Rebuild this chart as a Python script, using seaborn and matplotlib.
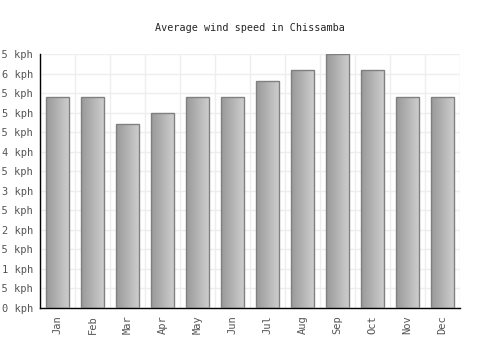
import matplotlib
matplotlib.use("Agg")
import matplotlib.pyplot as plt
import seaborn as sns
import numpy as np
import pandas as pd

months = ["Jan", "Feb", "Mar", "Apr", "May", "Jun", "Jul", "Aug", "Sep", "Oct", "Nov", "Dec"]
speed = [5.4, 5.4, 4.7, 5.0, 5.4, 5.4, 5.8, 6.1, 6.5, 6.1, 5.4, 5.4]
yticks = np.arange(0, 7.0, 0.5)

df = pd.DataFrame({"month": months, "speed": speed})

sns.set_style("white")
plt.rcParams['font.family'] = ['DejaVu Sans Mono']

fig = plt.figure(figsize=(5, 3.5), dpi=100)
ax = fig.add_axes([40 / 500, 42 / 350, 420 / 500, 254 / 350])

sns.barplot(data=df, x="month", y="speed", color="#aaaaaa", width=0.66,
            edgecolor="#808080", linewidth=1, ax=ax, zorder=3)

# gradient fill inside each bar
grad = np.linspace(0, 1, 64).reshape(1, -1)
cmap = matplotlib.colors.LinearSegmentedColormap.from_list("g", ["#999999", "#cfcfcf"])
for p in ax.patches:
    x0, y0 = p.get_x(), p.get_y()
    w, h = p.get_width(), p.get_height()
    im = ax.imshow(grad, cmap=cmap, extent=[x0, x0 + w, y0, y0 + h],
                   aspect="auto", zorder=2.5, interpolation="bilinear")
    im.set_clip_path(p)
    p.set_facecolor("none")

ax.set_xlim(-0.5, 11.5)
ax.set_ylim(0, 6.5)
ax.set_yticks(yticks)
ax.set_yticklabels([f"{v:g} kph" for v in yticks])
ax.set_xticks(np.arange(12))
ax.set_xticklabels(months, rotation=90)
ax.set_xticks(np.arange(-0.5, 12, 1), minor=True)

ax.grid(True, axis="y", color="#eeeeee", linewidth=1, zorder=0)
ax.grid(True, axis="x", which="minor", color="#eeeeee", linewidth=1, zorder=0)
ax.set_axisbelow(True)

for s in ["top", "right"]:
    ax.spines[s].set_visible(False)
for s in ["left", "bottom"]:
    ax.spines[s].set_color("black")
    ax.spines[s].set_linewidth(1)

ax.tick_params(axis="both", which="major", length=0, labelsize=7.5, colors="#555555", pad=5)
ax.tick_params(axis="x", which="minor", length=0)
ax.set_xlabel("")
ax.set_ylabel("")

fig.suptitle("Average wind speed in Chissamba", y=1 - 28 / 350, fontsize=7.3, va="center")

fig.savefig("out.png", dpi=100)
